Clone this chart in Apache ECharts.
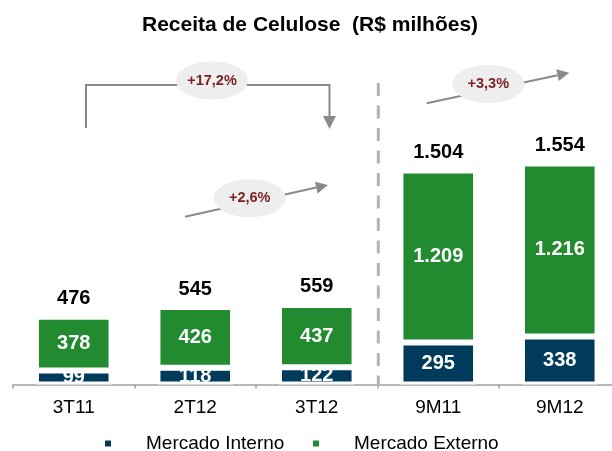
<!DOCTYPE html>
<html>
<head>
<meta charset="utf-8">
<script src="https://cdn.jsdelivr.net/npm/echarts@6/dist/echarts.min.js"></script>
<style>
  html, body { margin: 0; padding: 0; background: #fff; }
  #chart { width: 612px; height: 451px; }
</style>
</head>
<body>
<div id="chart"></div>
<script>
var categories = ['3T11', '2T12', '3T12', '9M11', '9M12'];
var interno = [99, 118, 122, 295, 338];
var externo = [378, 426, 437, 1209, 1216];
var totals = [476, 545, 559, 1504, 1554];

var FONT = 'Liberation Sans, Arial, sans-serif';

function fmt(v) {
    return String(v).replace(/\B(?=(\d{3})+(?!\d))/g, '.');
}

// seta com ponta triangular
function arrow(x1, y1, x2, y2) {
    var dx = x2 - x1, dy = y2 - y1;
    var len = Math.sqrt(dx * dx + dy * dy);
    var ux = dx / len, uy = dy / len;
    var bx = x2 - ux * 12, by = y2 - uy * 12;
    return [
        { type: 'line', z: 10, shape: { x1: x1, y1: y1, x2: bx, y2: by }, style: { stroke: '#8a8a8a', lineWidth: 2 } },
        { type: 'polygon', z: 10, shape: { points: [[x2, y2], [bx - uy * 6, by + ux * 6], [bx + uy * 6, by - ux * 6]] }, style: { fill: '#8a8a8a' } }
    ];
}

function bubble(cx, cy, text) {
    return [
        { type: 'ellipse', z: 11, shape: { cx: cx, cy: cy, rx: 36, ry: 19 }, style: { fill: '#eeeeee' } },
        { type: 'text', z: 12, x: cx, y: cy, style: { text: text, fill: '#7a1f1f', font: 'bold 14.5px ' + FONT, align: 'center', verticalAlign: 'middle' } }
    ];
}

var graphics = []
    .concat([
        { type: 'line', z: 5, shape: { x1: 378.3, y1: 83, x2: 378.3, y2: 386 }, style: { stroke: '#b3b3b3', lineWidth: 3, lineDash: [13, 9.5] } },
        { type: 'polyline', z: 10, shape: { points: [[86, 128], [86, 85], [329.5, 85], [329.5, 117]] }, style: { stroke: '#8a8a8a', lineWidth: 2, fill: null } },
        { type: 'polygon', z: 10, shape: { points: [[323, 116], [336, 116], [329.5, 129]] }, style: { fill: '#8a8a8a' } }
    ])
    .concat(bubble(212, 80.5, '+17,2%'))
    .concat(arrow(185, 216.7, 328, 185))
    .concat(bubble(249.7, 198.3, '+2,6%'))
    .concat(arrow(426.7, 103.3, 569.3, 72.7))
    .concat(bubble(488.3, 84, '+3,3%'));

function legendFor(name, left) {
    return {
        data: [name],
        left: left,
        top: 429,
        icon: 'rect',
        itemWidth: 8,
        itemHeight: 8,
        textStyle: { fontFamily: FONT, fontSize: 19, color: '#000', padding: [9, 0, 0, 29] }
    };
}

var myChart = echarts.init(document.getElementById('chart'));
var option = {
    backgroundColor: '#fff',
    animation: false,
    textStyle: { fontFamily: FONT },
    title: {
        text: 'Receita de Celulose  (R$ milhões)',
        left: 137,
        top: 10,
        textStyle: { fontFamily: FONT, fontSize: 21, fontWeight: 'bold', color: '#000' }
    },
    legend: [legendFor('Mercado Interno', 98), legendFor('Mercado Externo', 306)],
    grid: {
        left: 13,
        width: 607.5,
        top: 100,
        bottom: 66.5,
        outerBoundsMode: 'none'
    },
    xAxis: {
        type: 'category',
        data: categories,
        offset: 1.5,
        axisLine: { lineStyle: { color: '#a0a0a0', width: 1.5 } },
        axisTick: { show: true, length: 4, lineStyle: { color: '#a0a0a0', width: 1.5 } },
        axisLabel: { fontFamily: FONT, fontSize: 19, color: '#000', margin: 12 }
    },
    yAxis: {
        type: 'value',
        min: 0,
        max: 2000,
        show: false,
        splitLine: { show: false }
    },
    series: [
        {
            name: 'Mercado Interno',
            type: 'bar',
            stack: 'total',
            barWidth: 75.6,
            data: interno,
            itemStyle: { color: '#003b5c', borderColor: '#fff', borderWidth: 3 },
            label: {
                show: true,
                position: 'inside',
                color: '#fff',
                fontFamily: FONT,
                fontSize: 20,
                fontWeight: 'bold',
                formatter: function (p) { return fmt(p.value); }
            }
        },
        {
            name: 'Mercado Externo',
            type: 'bar',
            stack: 'total',
            barWidth: 75.6,
            data: externo,
            itemStyle: { color: '#228b30', borderColor: '#fff', borderWidth: 3 },
            label: {
                show: true,
                position: 'inside',
                color: '#fff',
                fontFamily: FONT,
                fontSize: 20,
                fontWeight: 'bold',
                formatter: function (p) { return fmt(p.value); }
            }
        },
        {
            name: 'Total',
            type: 'bar',
            stack: 'total',
            barWidth: 75.6,
            silent: true,
            data: totals.map(function () { return 0; }),
            itemStyle: { color: 'transparent' },
            label: {
                show: true,
                position: 'top',
                distance: 8,
                color: '#000',
                fontFamily: FONT,
                fontSize: 20,
                fontWeight: 'bold',
                formatter: function (p) { return fmt(totals[p.dataIndex]); }
            }
        }
    ],
    graphic: graphics
};
myChart.setOption(option);
</script>
</body>
</html>
